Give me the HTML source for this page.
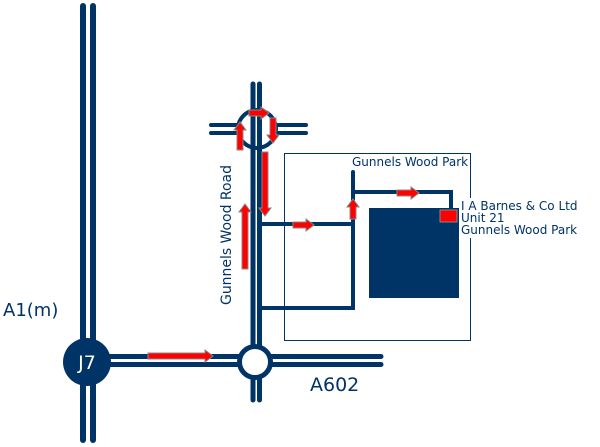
<!DOCTYPE html>
<html><head><style>body{margin:0;background:#fff}svg{display:block}</style></head><body>
<svg width="600" height="447" viewBox="0 0 600 447" xmlns="http://www.w3.org/2000/svg" font-family="'DejaVu Sans','Liberation Sans',sans-serif">
<g stroke="#003366" stroke-linecap="round" fill="none">
<line x1="83" y1="6" x2="83" y2="440" stroke-width="6"/>
<line x1="93" y1="6" x2="93" y2="440" stroke-width="6"/>
<line x1="90" y1="356.5" x2="381" y2="356.5" stroke-width="5"/>
<line x1="90" y1="364.5" x2="381" y2="364.5" stroke-width="5"/>
<line x1="253" y1="84" x2="253" y2="400" stroke-width="5"/>
<line x1="259.5" y1="84" x2="259.5" y2="400" stroke-width="5"/>
<line x1="211" y1="125" x2="238" y2="125" stroke-width="4"/>
<line x1="211" y1="133" x2="238" y2="133" stroke-width="4"/>
<line x1="277" y1="125" x2="306" y2="125" stroke-width="4"/>
<line x1="277" y1="133" x2="306" y2="133" stroke-width="4"/>
<circle cx="257" cy="129" r="19" stroke-width="4"/>
<polyline points="262,224 353,224 353,308 262,308" stroke-width="4" stroke-linecap="butt"/>
<line x1="353" y1="172" x2="353" y2="224" stroke-width="4"/>
<polyline points="353,192 451,192 451,210" stroke-width="4" stroke-linecap="butt"/>
</g>
<rect x="284.5" y="153.5" width="186" height="187" fill="none" stroke="#003366" stroke-width="1"/>
<circle cx="87" cy="362" r="24" fill="#003366"/>
<text x="87" y="369" fill="#fff" font-size="19" text-anchor="middle">J7</text>
<circle cx="255" cy="362" r="15.5" fill="#fff" stroke="#003366" stroke-width="5"/>
<rect x="369" y="208" width="90" height="90" fill="#003366"/>
<rect x="440" y="210" width="17" height="12" fill="#f00" stroke="#888" stroke-width="1"/>
<rect x="459" y="198" width="122" height="40" fill="#fff"/>
<rect x="348" y="155" width="122" height="15" fill="#fff"/>
<g fill="#003366" font-size="12">
<text x="352" y="166">Gunnels Wood Park</text>
<text x="461" y="210">I A Barnes &amp; Co Ltd</text>
<text x="461" y="222">Unit 21</text>
<text x="461" y="234">Gunnels Wood Park</text>
<text transform="translate(231,305) rotate(-90)" font-size="14" textLength="140">Gunnels Wood Road</text>
<text x="3" y="316" font-size="18">A1(m)</text>
<text x="310" y="391" font-size="19">A602</text>
</g>
<g fill="#f00" stroke="#888" stroke-width="1">
<!-- horizontal right arrows: x1->x2 at y -->
<polygon points="148,353 205,353 205,350 213,356 205,362 205,359 148,359"/>
<polygon points="249,110 261,110 261,107 269,113 261,119 261,116 249,116"/>
<polygon points="293,222 306,222 306,219 314,225 306,231 306,228 293,228"/>
<polygon points="397,190 411,190 411,187 419,193 411,199 411,196 397,196"/>
<!-- up arrows -->
<polygon points="237,150 237,130 234,130 240,122 246,130 243,130 243,150"/>
<polygon points="242,269 242,212 239,212 245,204 251,212 248,212 248,269"/>
<polygon points="350,219 350,207 347,207 353,199 359,207 356,207 356,219"/>
<!-- down arrows -->
<polygon points="270,118 270,135 267,135 273,143 279,135 276,135 276,118"/>
<polygon points="262,152 262,208 259,208 265,216 271,208 268,208 268,152"/>
</g>
</svg>
</body></html>
